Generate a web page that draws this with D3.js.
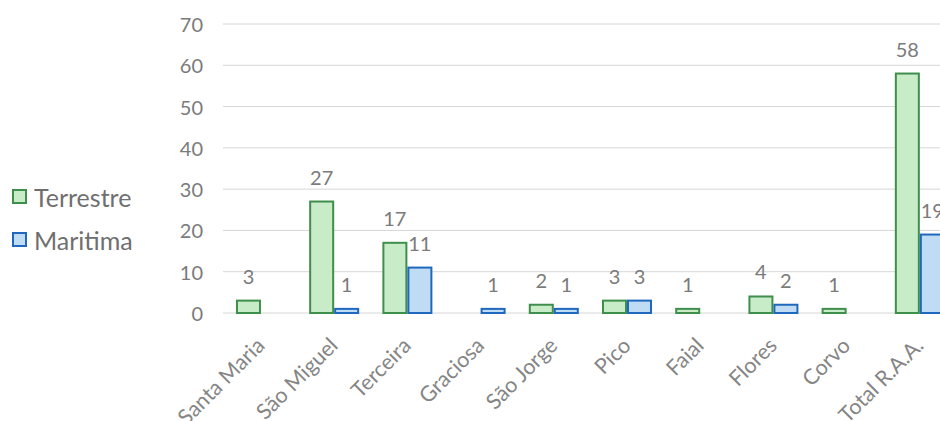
<!DOCTYPE html>
<html>
<head>
<meta charset="utf-8">
<script src="https://cdn.jsdelivr.net/npm/d3@7"></script>
<style>
  body { margin: 0; background: #fff; }
  svg { display: block; font-family: Lato, "Open Sans", sans-serif; }
</style>
</head>
<body>
<svg></svg>
<script>
const islands = ['Santa Maria', 'São Miguel', 'Terceira', 'Graciosa', 'São Jorge',
  'Pico', 'Faial', 'Flores', 'Corvo', 'Total R.A.A.'];
const terrestre = [3, 27, 17, null, 2, 3, 1, 4, 1, 58];
const maritima = [null, 1, 11, 1, 1, 3, null, 2, null, 19];
const seriesNames = ['Terrestre', 'Maritima'];
const yTicks = [0, 10, 20, 30, 40, 50, 60, 70];

const [svgWidth, svgHeight] = [940, 421];
const fills = ['#c9ecc8', '#bfdcf4'];
const strokes = ['#3f8f4c', '#1f68bd'];
const textColor = '#7b7b7b';

const svg = d3.select('svg')
  .attr('width', svgWidth)
  .attr('height', svgHeight);

const x = d3.scaleBand()
  .domain(islands)
  .range([224.4, 956.4])
  .paddingInner(0.317)
  .paddingOuter(0.158);
const xInner = d3.scaleBand()
  .domain(seriesNames)
  .range([0, x.bandwidth()]);
const y = d3.scaleLinear()
  .domain([0, 70])
  .range([313, 24]);

// gridlines
svg.append('g')
  .selectAll('line')
  .data(yTicks)
  .join('line')
  .attr('x1', 223)
  .attr('x2', svgWidth)
  .attr('y1', d => y(d))
  .attr('y2', d => y(d))
  .attr('stroke', '#d6d6d6')
  .attr('stroke-width', 1);

// y tick labels
svg.append('g')
  .selectAll('text')
  .data(yTicks)
  .join('text')
  .attr('x', 203)
  .attr('y', d => y(d))
  .attr('text-anchor', 'end')
  .attr('dominant-baseline', 'central')
  .attr('fill', textColor)
  .attr('font-size', 20)
  .text(d => d);

const rows = islands.map((name, i) => ({ name, values: [terrestre[i], maritima[i]] }));

const groups = svg.append('g')
  .selectAll('g')
  .data(rows)
  .join('g')
  .attr('transform', d => `translate(${x(d.name)}, 0)`);

const cells = groups.selectAll('g')
  .data(d => d.values.map((v, k) => ({ v, k })).filter(e => e.v !== null))
  .join('g');

cells.append('rect')
  .attr('x', d => xInner(seriesNames[d.k]) + 1)
  .attr('y', d => y(d.v))
  .attr('width', xInner.bandwidth() - 2)
  .attr('height', d => y(0) - y(d.v))
  .attr('fill', d => fills[d.k])
  .attr('stroke', d => strokes[d.k])
  .attr('stroke-width', 2);

cells.append('text')
  .attr('x', d => xInner(seriesNames[d.k]) + xInner.bandwidth() / 2)
  .attr('y', d => y(d.v) - 17)
  .attr('text-anchor', 'middle')
  .attr('fill', textColor)
  .attr('font-size', 20)
  .text(d => d.v);

// category labels
svg.append('g')
  .selectAll('text')
  .data(islands)
  .join('text')
  .attr('transform', d => `translate(${x(d) + x.bandwidth() / 2 + 5}, ${y(0) + 34}) rotate(-45)`)
  .attr('text-anchor', 'end')
  .attr('fill', '#858585')
  .attr('font-size', 21.5)
  .text(d => d);

// legend
const legend = svg.append('g')
  .selectAll('g')
  .data(seriesNames)
  .join('g')
  .attr('transform', (d, i) => `translate(13, ${190 + i * 43})`);
legend.append('rect')
  .attr('width', 13)
  .attr('height', 13)
  .attr('fill', (d, i) => fills[i])
  .attr('stroke', (d, i) => strokes[i])
  .attr('stroke-width', 2);
legend.append('text')
  .attr('x', 21)
  .attr('y', 7)
  .attr('dominant-baseline', 'central')
  .attr('fill', '#6f6f6f')
  .attr('font-size', 25)
  .text(d => d);
</script>
</body>
</html>
